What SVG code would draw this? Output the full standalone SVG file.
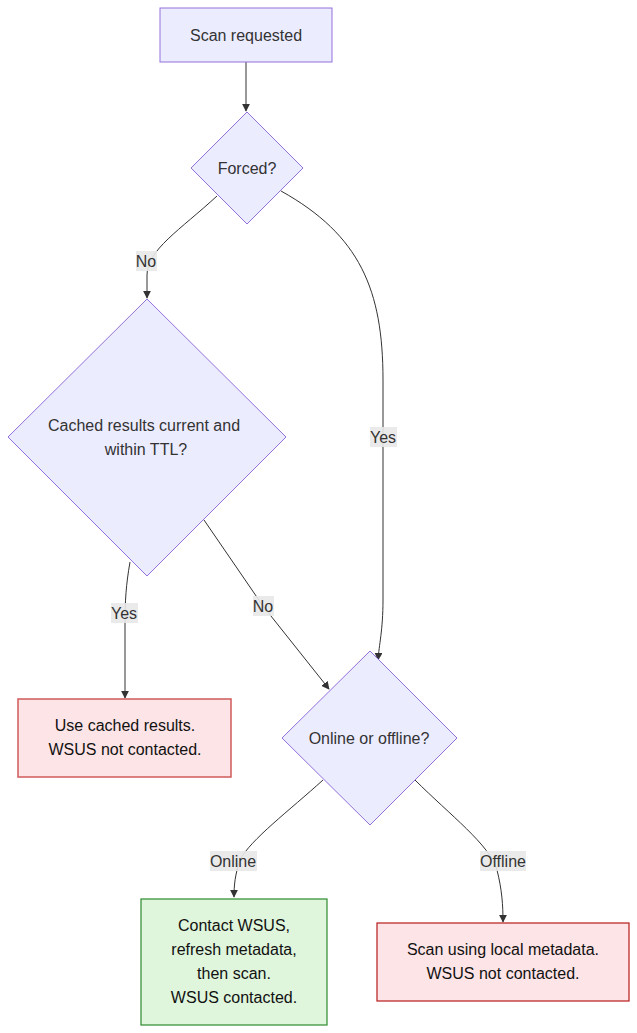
<svg xmlns="http://www.w3.org/2000/svg" width="637" height="1033" viewBox="0 0 637 1033">
<style>
text{font-family:"Liberation Sans",Arial,sans-serif;font-size:16px;fill:#333;text-anchor:middle;dominant-baseline:central}
.n{fill:#ECECFF;stroke:#9370DB;stroke-width:1}
.e{fill:none;stroke:#333;stroke-width:1;marker-end:url(#a)}
.lb{fill:#e8e8e8;opacity:0.9}
.r1{fill:#fde4e6;stroke:#d05a5a;stroke-width:1.5}
.r2{fill:#fde4e6;stroke:#b71c1c;stroke-width:1.2}
.g{fill:#dff5dc;stroke:#2e8b2e;stroke-width:1.2}
.d{fill:#111}
</style>
<defs><marker id="a" viewBox="0 0 10 10" refX="9" refY="5" markerWidth="8" markerHeight="8" orient="auto"><path d="M0,0L10,5L0,10z" fill="#333"/></marker></defs>
<g id="edges">
<path class="e" d="M246,62V111"/>
<path class="e" d="M217,196C180,230 147,250 147,275V298"/>
<path class="e" d="M281,191C360,235 383,290 383,380V600C383,630 379,645 378,660"/>
<path class="e" d="M130,562C126,585 125,600 125,625V698"/>
<path class="e" d="M204,520L263,606L329,689"/>
<path class="e" d="M323,780C290,810 250,840 240,860C235,875 234,885 234,897"/>
<path class="e" d="M415,780C450,815 490,845 497,870C502,890 503,905 503,922"/>
<rect class="lb" x="136" y="251" width="21" height="20"/><text x="146" y="261">No</text>
<rect class="lb" x="370" y="427" width="27" height="20"/><text x="383" y="437">Yes</text>
<rect class="lb" x="111" y="603" width="27" height="20"/><text x="124" y="613">Yes</text>
<rect class="lb" x="253" y="596" width="21" height="20"/><text x="263" y="606">No</text>
<rect class="lb" x="210" y="851" width="47" height="20"/><text x="233" y="861">Online</text>
<rect class="lb" x="480" y="851" width="46" height="20"/><text x="503" y="861">Offline</text>
</g>
<g id="n1"><rect class="n" x="160" y="8" width="172" height="54"/><text x="246" y="35">Scan requested</text></g>
<g id="n2"><polygon class="n" points="247,112 303,168 247,224 191,168"/><text x="247" y="168">Forced?</text></g>
<g id="n3"><polygon class="n" points="147,299 286,437 147,576 8,437"/><text x="144" y="425">Cached results current and</text><text x="146" y="449">within TTL?</text></g>
<g id="n4"><polygon class="n" points="370,651 457,738 370,825 282,738"/><text x="369" y="738">Online or offline?</text></g>
<g id="n5"><rect class="r1" x="18" y="699" width="213" height="78"/><text class="d" x="125" y="725">Use cached results.</text><text class="d" x="125" y="749">WSUS not contacted.</text></g>
<g id="n6"><rect class="g" x="141" y="899" width="186" height="126"/><text class="d" x="234" y="925">Contact WSUS,</text><text class="d" x="234" y="949">refresh metadata,</text><text class="d" x="234" y="973">then scan.</text><text class="d" x="234" y="997">WSUS contacted.</text></g>
<g id="n7"><rect class="r2" x="377" y="923" width="252" height="78"/><text class="d" x="503" y="949">Scan using local metadata.</text><text class="d" x="503" y="973">WSUS not contacted.</text></g>
</svg>
